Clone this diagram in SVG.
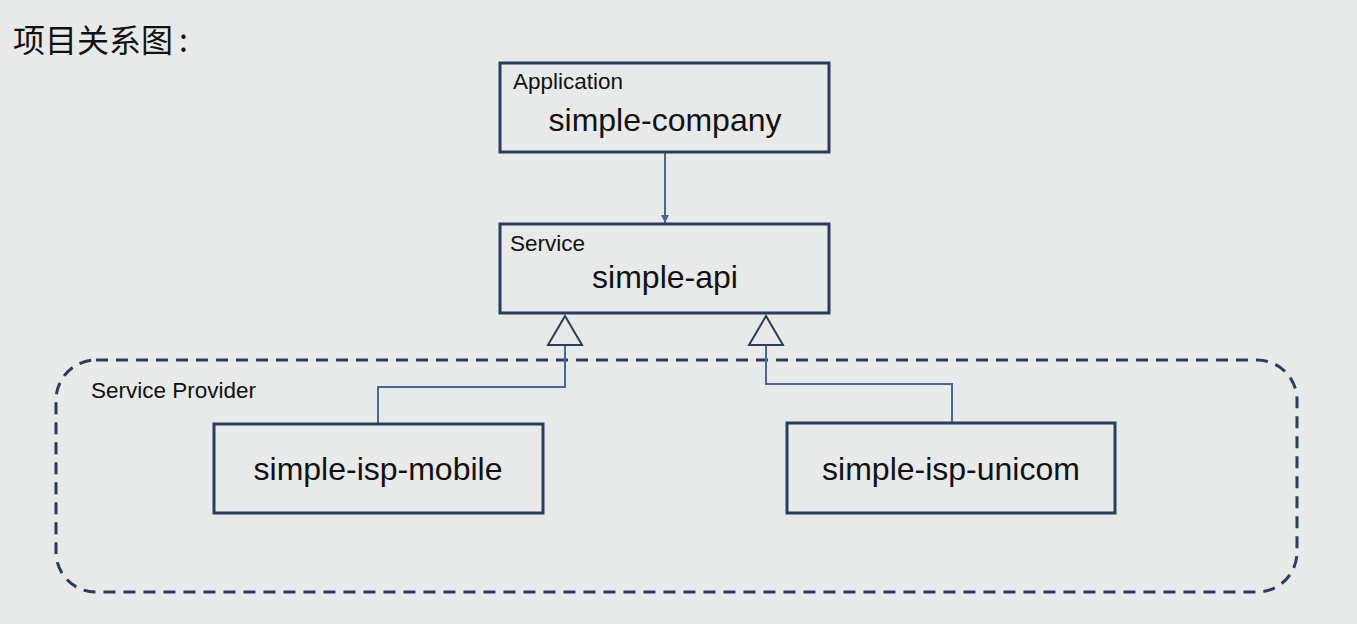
<svg xmlns="http://www.w3.org/2000/svg" width="1357" height="624" viewBox="0 0 1357 624">
<defs>
<style>
.box{fill:none;stroke:#2b3d5c;stroke-width:3}
.conn{fill:none;stroke:#4a6796;stroke-width:2}
.tri{fill:#e8e9e9;stroke:#2b3d5c;stroke-width:2}
.big{font-family:"Liberation Sans",Arial,sans-serif;font-size:32px;fill:#111;text-anchor:middle}
.small{font-family:"Liberation Sans",Arial,sans-serif;font-size:22.5px;fill:#111}
</style>
<marker id="arr" viewBox="0 0 10 10" refX="10" refY="5" markerWidth="8" markerHeight="8" orient="auto" markerUnits="userSpaceOnUse"><path d="M0,0 L10,5 L0,10 z" fill="#4a6796"/></marker>
</defs>
<rect width="1357" height="624" fill="#e8e9e9"/>
<text x="13" y="52" font-family="'Noto Sans CJK SC',sans-serif" font-size="32" fill="#111">项目关系图<tspan dx="6">:</tspan></text>
<g id="group-provider">
<rect x="56" y="360" width="1241" height="232" rx="40" ry="40" fill="none" stroke="#2b3d5c" stroke-width="3" stroke-dasharray="12,8"/>
<text class="small" x="91" y="398">Service Provider</text>
</g>
<g id="connectors">
<line class="conn" x1="665" y1="153" x2="665" y2="223" marker-end="url(#arr)"/>
<polyline class="conn" points="565,345 565,387 378,387 378,423"/>
<polyline class="conn" points="766,345 766,384 952,384 952,422"/>
<polygon class="tri" points="565,316 548,345 582,345"/>
<polygon class="tri" points="766,316 749,345 783,345"/>
</g>
<g id="node-company">
<rect class="box" x="500" y="63" width="329" height="89"/>
<text class="small" x="513" y="89">Application</text>
<text class="big" x="665" y="131">simple-company</text>
</g>
<g id="node-api">
<rect class="box" x="500" y="224" width="329" height="89"/>
<text class="small" x="510" y="251">Service</text>
<text class="big" x="665" y="288">simple-api</text>
</g>
<g id="node-mobile">
<rect class="box" x="214" y="424" width="329" height="89"/>
<text class="big" x="378" y="480">simple-isp-mobile</text>
</g>
<g id="node-unicom">
<rect class="box" x="787" y="423" width="328" height="90"/>
<text class="big" x="951" y="480">simple-isp-unicom</text>
</g>
</svg>
